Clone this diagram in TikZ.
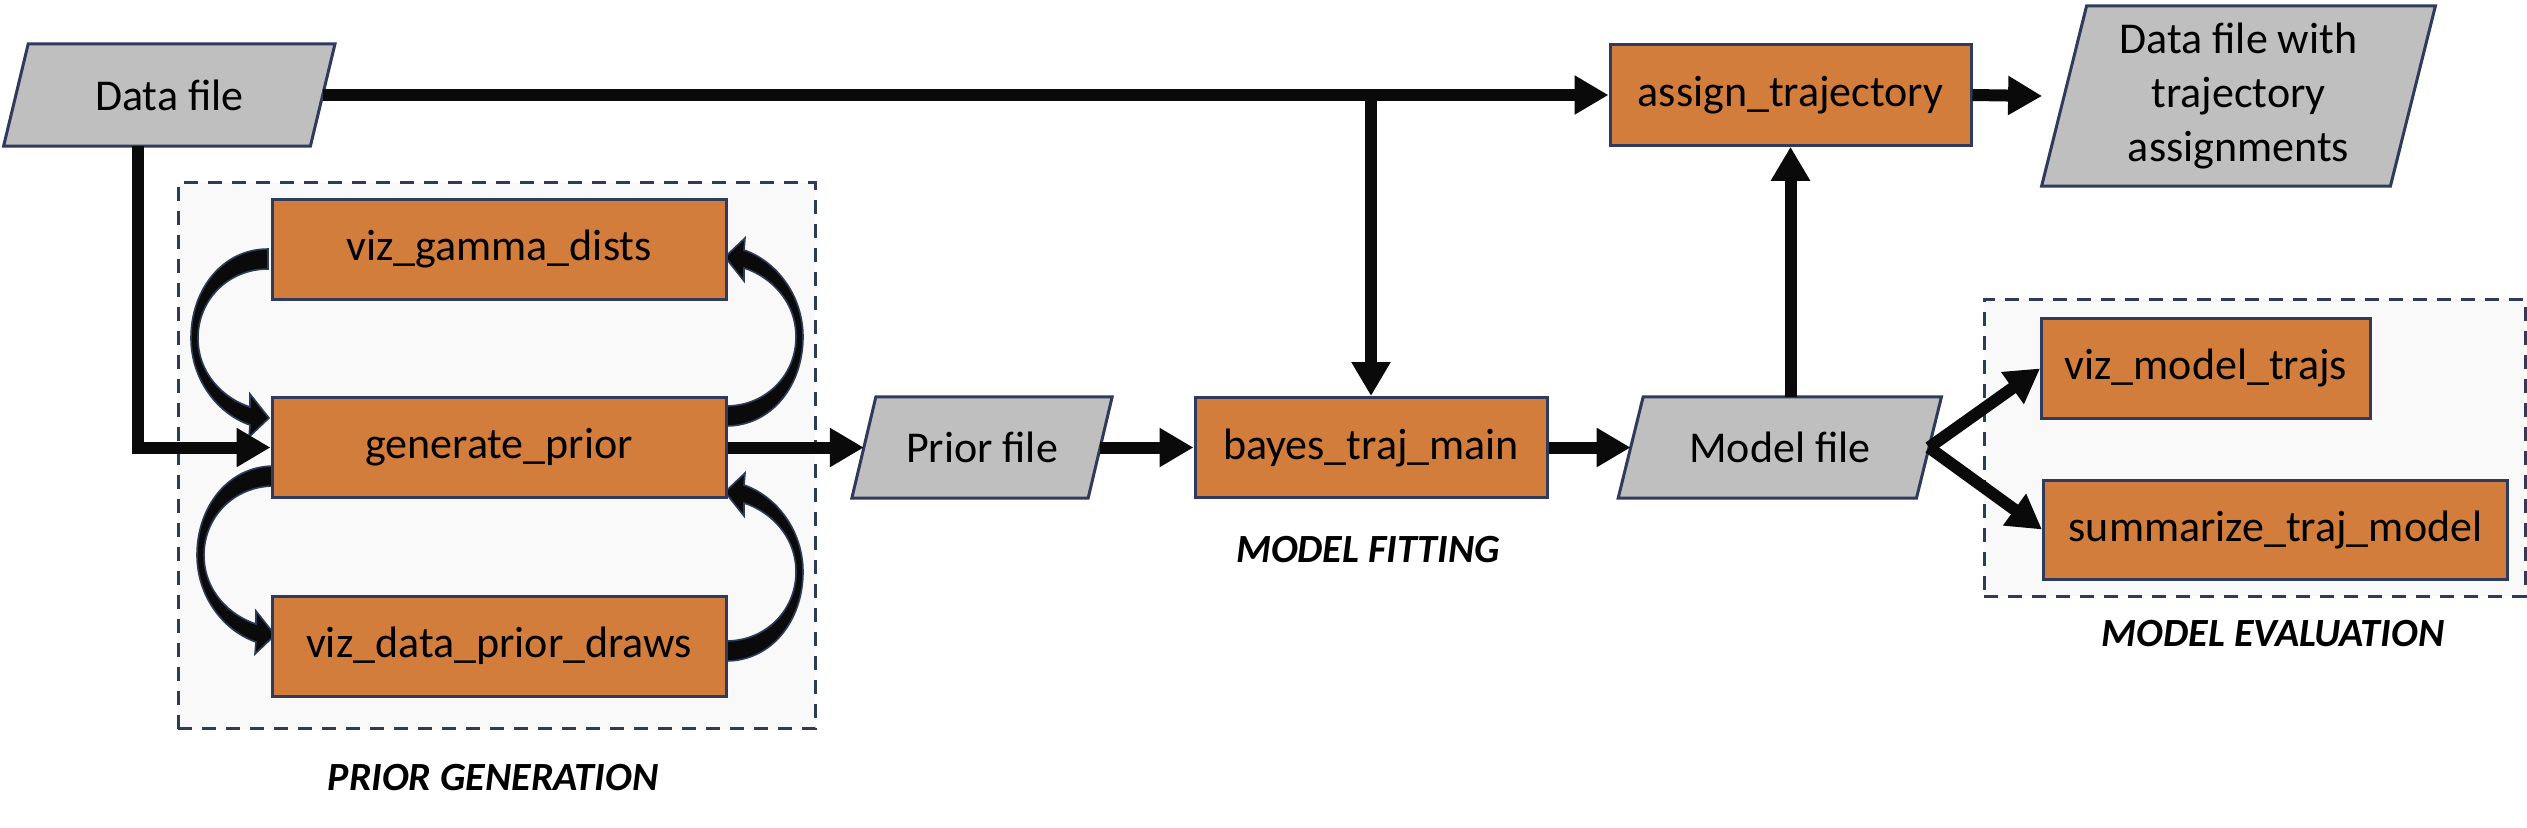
\documentclass[tikz,border=0pt]{standalone}
\usepackage{fontspec}
\setmainfont{Carlito}
\usetikzlibrary{arrows.meta}
\pgfdeclarelayer{back}
\pgfdeclarelayer{mid}
\pgfsetlayers{back,mid,main}
\definecolor{boxorange}{HTML}{D27D3C}
\definecolor{navy}{HTML}{2F3B5C}
\definecolor{filegray}{HTML}{BFBFBF}
\definecolor{panel}{HTML}{F9F9F9}
\definecolor{ink}{HTML}{0A0A0A}
\newcommand\drawpgram[2]{%
  \filldraw[fill=filegray, draw=navy, line width=1.5pt]
    ([xshift=#2]#1.north west) -- ([xshift=#2]#1.north east) --
    ([xshift=-#2]#1.south east) -- ([xshift=-#2]#1.south west) -- cycle;}
\begin{document}
\begin{tikzpicture}[x=0.5pt,y=-0.5pt,
  txt/.style={font=\fontsize{22}{27}\selectfont},
  proc/.style={txt, draw=navy, line width=1.5pt, fill=boxorange, minimum height=50pt, inner sep=0pt},
  file/.style={txt, inner sep=0pt, minimum height=50pt, align=center},
  conn/.style={line width=6pt, draw=ink},
  arr/.style={conn, -{Triangle[length=17pt,width=18.5pt]}},
  panelbox/.style={draw=navy, line width=1.5pt, dash pattern=on 7pt off 5pt, fill=panel, inner sep=0pt},
  grouplabel/.style={font=\fontsize{20}{23}\selectfont\bfseries\itshape},
  crescent/.pic={
    \filldraw[fill=ink, draw=navy, line width=0.8pt]
      (0,-10) .. controls (-46,-10) and (-77,31) .. (-77,79)
      .. controls (-77,121) and (-50,155) .. (-18,166)
      -- (-19,178) -- (1,159) -- (-18,135) -- (-18,148)
      .. controls (-43,140) and (-70,116) .. (-70,79)
      .. controls (-70,41) and (-40,10) .. (0,10) -- cycle;
  }
]
\useasboundingbox (0,0) rectangle (2527,827);

% panels
\begin{pgfonlayer}{back}
  \node[panelbox, minimum width=318.5pt, minimum height=273pt] (PGbox) at (496.5,455.6) {};
  \node[panelbox, minimum width=270.5pt, minimum height=148.5pt] (EVbox) at (2254.5,447.5) {};
\end{pgfonlayer}

% process boxes
\node[proc, minimum width=180.5pt, minimum height=50.25pt] (AT) at (1790.5,95) {assign\_trajectory};
\node[proc, minimum width=227pt] (VG) at (499,249) {viz\_gamma\_dists};
\node[proc, minimum width=227pt] (GP) at (499,447.5) {generate\_prior};
\node[proc, minimum width=227pt] (VD) at (499,646) {viz\_data\_prior\_draws};
\node[proc, minimum width=176pt] (BT) at (1371,447.5) {bayes\_traj\_main};
\node[proc, minimum width=164.2pt, minimum height=50.35pt] (VM) at (2205.8,368.4) {viz\_model\_trajs};
\node[proc, minimum width=232pt, minimum height=49.5pt] (SM) at (2275.5,529.5) {summarize\_traj\_model};

% file (parallelogram) nodes
\node[file, minimum width=153pt, minimum height=50.7pt] (DF) at (169.3,95) {Data file};
\node[file, minimum width=117.75pt, minimum height=50.2pt] (PF) at (982,447.5) {Prior file};
\node[file, minimum width=148.75pt, minimum height=50.25pt] (MF) at (1779.8,447.5) {Model file};
\node[file, minimum width=174pt, minimum height=89.75pt] (DT) at (2238.5,96) {Data file with\\trajectory\\assignments};
\begin{pgfonlayer}{mid}
  \drawpgram{DF}{6.15pt}
  \drawpgram{PF}{6pt}
  \drawpgram{MF}{6.25pt}
  \drawpgram{DT}{11.25pt}
  \pic at (268,259) {crescent};
  \pic at (274,476) {crescent};
  \pic[rotate=180] at (726,416) {crescent};
  \pic[rotate=180] at (726,651) {crescent};
\end{pgfonlayer}

% group labels
\node[grouplabel] (LPG) at (493,778) {PRIOR GENERATION};
\node[grouplabel] (LMF) at (1368,550) {MODEL FITTING};
\node[grouplabel] (LME) at (2273,634) {MODEL EVALUATION};

% connectors
\coordinate (j1) at (138,145.7);
\draw[arr] (DF.east) -- (AT.west);
\draw[arr] (BT.north |- DF.east) -- (BT.north);
\draw[arr] (j1) |- (GP.west);
\draw[arr] (GP.east) -- (PF.west);
\draw[arr] (PF.east) -- (BT.west);
\draw[arr] (BT.east) -- (MF.west);
\draw[arr] (MF.north -| AT.south) -- (AT.south);
\draw[arr] (AT.east) -- ([xshift=-11pt]DT.west);
\draw[arr] (MF.east) -- (VM.west);
\draw[arr] (MF.east) -- (SM.west);
\end{tikzpicture}
\end{document}
